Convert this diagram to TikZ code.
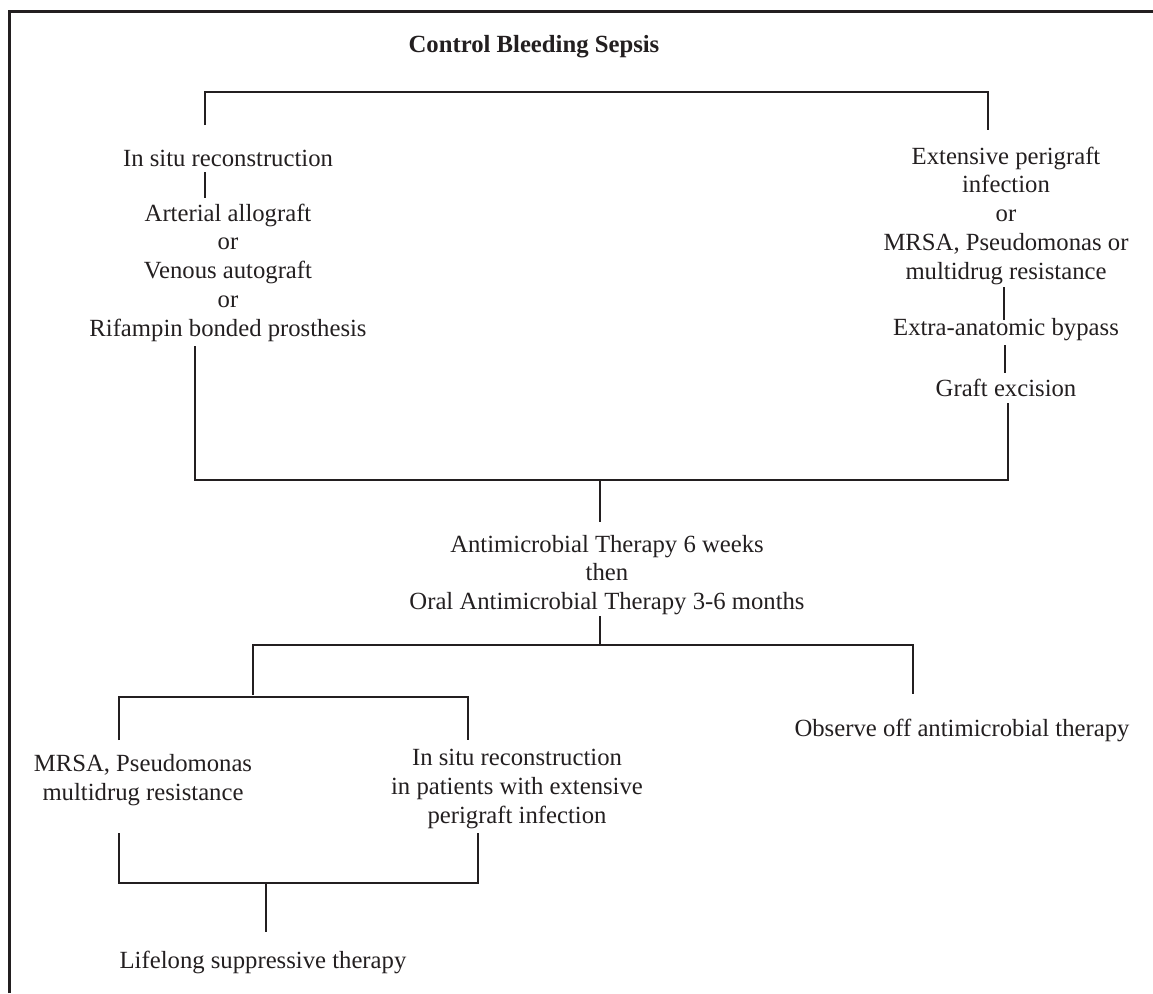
\documentclass[tikz,border=0pt]{standalone}
\usepackage{fontspec}
\setmainfont{Liberation Serif}
\definecolor{ink}{HTML}{231F20}
\begin{document}
\begin{tikzpicture}[x=1pt,y=-1pt,
  txt/.style={align=center, inner sep=0pt, text=ink, font=\fontsize{24.7pt}{28.75pt}\selectfont},
  conn/.style={draw=ink, line width=2pt},
  frame/.style={draw=ink, line width=3pt}]
\useasboundingbox (0,0) rectangle (1153,993);
% frame (left and top edges)
\coordinate (fb) at (9,993);
\coordinate (ftl) at (9,11);
\coordinate (ftr) at (1153,11);
\draw[frame] (fb) -- (ftl) -- (ftr);

% texts
\node[txt, font=\fontsize{24.7pt}{28.75pt}\selectfont\bfseries] (title) at (534,47) {Control Bleeding Sepsis};
\node[txt] (ins) at (228,158) {In situ reconstruction};
\node[txt] (grafts) at (228,272.5) {Arterial allograft\\or\\Venous autograft\\or\\Rifampin bonded prosthesis};
\node[txt] (ext) at (1006,215.5) {Extensive perigraft\\infection\\or\\MRSA, Pseudomonas or\\multidrug resistance};
\node[txt] (eab) at (1006,330) {Extra-anatomic bypass};
\node[txt] (ge) at (1006,388) {Graft excision};
\node[txt] (amt) at (607,575) {Antimicrobial Therapy 6 weeks\\then\\Oral Antimicrobial Therapy 3-6 months};
\node[txt] (mrsa) at (143,780) {MRSA, Pseudomonas\\multidrug resistance};
\node[txt] (isr) at (517,789) {In situ reconstruction\\in patients with extensive\\perigraft infection};
\node[txt] (obs) at (962,730) {Observe off antimicrobial therapy};
\node[txt] (life) at (263,962) {Lifelong suppressive therapy};

% connector points
\coordinate (a1) at (205,125);
\coordinate (a2) at (205,92);
\coordinate (a3) at (988,92);
\coordinate (a4) at (988,130);
\coordinate (b1) at (205,172);
\coordinate (b2) at (205,198);
\coordinate (c1) at (1004,287);
\coordinate (c2) at (1004,320);
\coordinate (d1) at (1005,345);
\coordinate (d2) at (1005,373);
\coordinate (e1) at (195,346);
\coordinate (e2) at (195,480);
\coordinate (e3) at (1008,480);
\coordinate (e4) at (1008,403);
\coordinate (j1) at (600,480);
\coordinate (j2) at (600,522);
\coordinate (k1) at (600,616);
\coordinate (k2) at (600,645);
\coordinate (m1) at (253,695);
\coordinate (m2) at (253,645);
\coordinate (m3) at (913,645);
\coordinate (m4) at (913,694);
\coordinate (n1) at (119,740);
\coordinate (n2) at (119,697);
\coordinate (n3) at (468,697);
\coordinate (n4) at (468,740);
\coordinate (p1) at (119,833);
\coordinate (p2) at (119,883);
\coordinate (p3) at (478,883);
\coordinate (p4) at (478,833);
\coordinate (q1) at (266,883);
\coordinate (q2) at (266,932);

\draw[conn] (a1) -- (a2) -- (a3) -- (a4);
\draw[conn] (b1) -- (b2);
\draw[conn] (c1) -- (c2);
\draw[conn] (d1) -- (d2);
\draw[conn] (e1) -- (e2) -- (e3) -- (e4);
\draw[conn] (j1) -- (j2);
\draw[conn] (k1) -- (k2);
\draw[conn] (m1) -- (m2) -- (m3) -- (m4);
\draw[conn] (n1) -- (n2) -- (n3) -- (n4);
\draw[conn] (p1) -- (p2) -- (p3) -- (p4);
\draw[conn] (q1) -- (q2);
\end{tikzpicture}
\end{document}
